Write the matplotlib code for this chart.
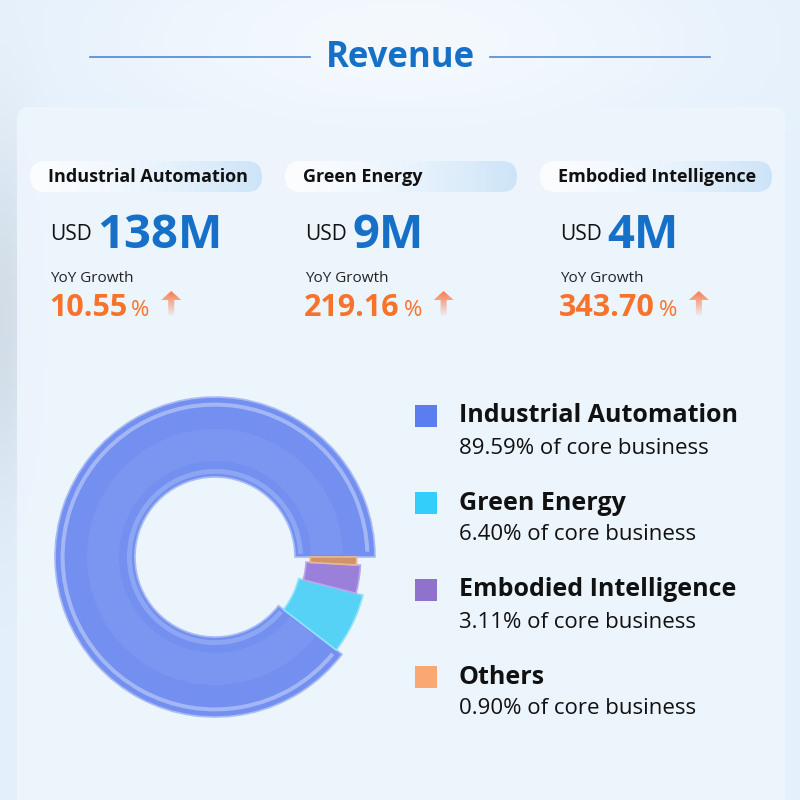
import matplotlib.pyplot as plt
import numpy as np
from matplotlib.patches import FancyBboxPatch, Rectangle, Wedge, FancyArrow
from matplotlib.colors import to_rgb

plt.rcParams['font.family'] = ['Open Sans', 'DejaVu Sans']

# data
segments = ['Industrial Automation', 'Green Energy', 'Embodied Intelligence', 'Others']
shares = [89.59, 6.40, 3.11, 0.90]
seg_colors = ['#5b7df0', '#33cffa', '#8f72cc', '#fba774']
ring_colors = ['#7390f0', '#55d2f6', '#9a80da', '#d0946a']
card_names = ['Industrial Automation', 'Green Energy', 'Embodied Intelligence']
revenue_musd = [138, 9, 4]
yoy_growth = [10.55, 219.16, 343.70]

BLUE = '#1670c8'
ORANGE = '#f7722a'

fig = plt.figure(figsize=(8, 8), dpi=100)
ax = fig.add_axes([0, 0, 1, 1])
ax.set_xlim(0, 800)
ax.set_ylim(800, 0)
ax.axis('off')

# soft background
yy, xx = np.mgrid[0:200, 0:200] / 200.0
base = np.array(to_rgb('#e4f0fc'))
img = np.ones((200, 200, 3)) * base
glow = np.exp(-((xx - 0.5) ** 2 / 0.15 + (yy - 0.05) ** 2 / 0.02))
img = img + (1 - img) * glow[..., None] * 0.6
blue_left = np.exp(-((xx - 0.0) ** 2 / 0.002 + (yy - 0.4) ** 2 / 0.05))
img = img * (1 - 0.08 * blue_left[..., None])
ax.imshow(img, extent=[0, 800, 800, 0], zorder=0, aspect='auto')

panel = FancyBboxPatch((17, 107), 768, 720, boxstyle='round,pad=0,rounding_size=12',
                       facecolor='#eef5fd', edgecolor='none', alpha=0.9, zorder=1)
ax.add_patch(panel)

# title
ax.text(400, 58, 'Revenue', ha='center', va='center', fontsize=25, fontweight='bold',
        color=BLUE, zorder=3)
ax.plot([90, 310], [57, 57], color='#4a8ad8', lw=1.2, zorder=3)
ax.plot([490, 710], [57, 57], color='#4a8ad8', lw=1.2, zorder=3)

fig.canvas.draw()
renderer = fig.canvas.get_renderer()

# cards
grad = np.linspace(0, 1, 100)[None, :, None]
c_left = np.array(to_rgb('#fbfdff'))
c_right = np.array(to_rgb('#cde4f8'))
pill_img = c_left + (c_right - c_left) * grad ** 1.5

# fading arrow fill (opaque at the head, transparent at the tail)
arr_img = np.zeros((50, 2, 4))
arr_img[..., :3] = to_rgb('#f7784a')
arr_img[..., 3] = np.linspace(1, 0.05, 50)[:, None]

for i, name in enumerate(card_names):
    x0 = 48 + 255 * i
    pill = FancyBboxPatch((x0 - 18, 161), 232, 31, boxstyle='round,pad=0,rounding_size=15.5',
                          facecolor='none', edgecolor='none', zorder=2)
    ax.add_patch(pill)
    im = ax.imshow(pill_img, extent=[x0 - 18, x0 + 214, 192, 161], zorder=2, aspect='auto')
    im.set_clip_path(pill)
    ax.text(x0, 177, name, ha='left', va='center', fontsize=13, fontweight='bold',
            color='#111111', zorder=3)

    ax.text(x0 + 2, 240, 'USD', ha='left', va='baseline', fontsize=15, color='#111111', zorder=3)
    ax.text(x0 + 49, 248, '%dM' % revenue_musd[i], ha='left', va='baseline', fontsize=34,
            fontweight='bold', color=BLUE, zorder=3)

    ax.text(x0 + 2, 278, 'YoY Growth', ha='left', va='center', fontsize=11, color='#222222',
            zorder=3)
    t = ax.text(x0 + 1, 316, '%.2f' % yoy_growth[i], ha='left', va='baseline', fontsize=22,
                fontweight='bold', color=ORANGE, zorder=3)
    bb = t.get_window_extent(renderer)
    x_end = bb.x1
    ax.text(x_end + 4, 316, '%', ha='left', va='baseline', fontsize=16, color=ORANGE, zorder=3)
    xa = x_end + 44
    arrow = FancyArrow(xa, 316, 0, -25, width=6, head_width=20, head_length=9,
                       length_includes_head=True, facecolor='none', edgecolor='none', zorder=3)
    ax.add_patch(arrow)
    aim = ax.imshow(arr_img, extent=[xa - 11, xa + 11, 316, 290], zorder=3, aspect='auto')
    aim.set_clip_path(arrow)

# legend
for i, name in enumerate(segments):
    yc = 416 + 87 * i
    ax.add_patch(Rectangle((415, yc - 11), 22, 22, facecolor=seg_colors[i], edgecolor='none',
                           zorder=3))
    ax.text(459, yc, name, ha='left', va='center', fontsize=18, fontweight='bold',
            color='#111111', zorder=3)
    ax.text(459, yc + 32, '%.2f%% of core business' % shares[i], ha='left', va='center',
            fontsize=16, color='#111111', zorder=3)

# donut
R = 154.0
pax = fig.add_axes([(215 - 200) / 800, 1 - (557 + 200) / 800, 0.5, 0.5], zorder=5)
pax.set_xlim(-200 / R, 200 / R)
pax.set_ylim(-200 / R, 200 / R)
pax.set_aspect('equal')
pax.axis('off')
wedges, _ = pax.pie(shares, startangle=0, counterclock=True, colors=ring_colors, radius=1.0,
                    wedgeprops=dict(width=0.5, edgecolor='#a9bbf5', linewidth=1.2))
# smaller segments sit slightly inside the ring
outer_r = [1.0, 0.955, 0.91, 0.885]
inner_r = [0.5, 0.54, 0.57, 0.595]
edge_cols = ['#a9bbf5', '#8fe3fa', '#b9a6e8', '#e8b890']
for w, ro, ri, ec in zip(wedges, outer_r, inner_r, edge_cols):
    w.set_radius(ro)
    w.set_width(ro - ri)
    w.set_edgecolor(ec)

main = wedges[0]
# glassy highlights on the main ring
pax.add_patch(Wedge((0, 0), 0.965, main.theta1 + 2, main.theta2 - 2, width=0.025,
                    facecolor='white', alpha=0.35, edgecolor='none'))
pax.add_patch(Wedge((0, 0), 0.55, main.theta1 + 2, main.theta2 - 2, width=0.03,
                    facecolor='#9fb6f8', alpha=0.6, edgecolor='none'))
pax.add_patch(Wedge((0, 0), 0.8, main.theta1 + 1, main.theta2 - 1, width=0.2,
                    facecolor='white', alpha=0.06, edgecolor='none'))

fig.savefig('out.png', dpi=100)
